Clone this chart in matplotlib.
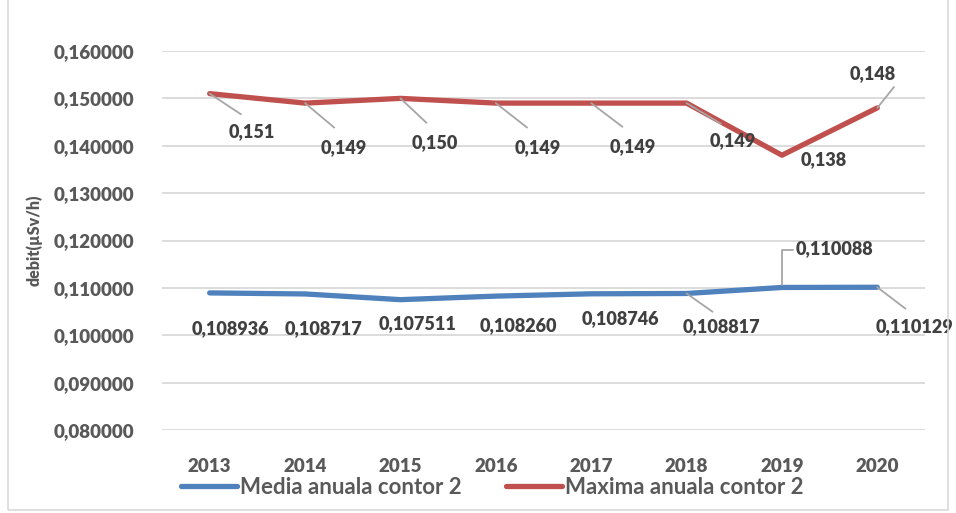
import matplotlib.pyplot as plt
import numpy as np

years = ["2013", "2014", "2015", "2016", "2017", "2018", "2019", "2020"]
media = [0.108936, 0.108717, 0.107511, 0.108260, 0.108746, 0.108817, 0.110088, 0.110129]
maxima = [0.151, 0.149, 0.150, 0.149, 0.149, 0.149, 0.138, 0.148]
media_labels = ["0,108936", "0,108717", "0,107511", "0,108260", "0,108746", "0,108817", "0,110088", "0,110129"]
maxima_labels = ["0,151", "0,149", "0,150", "0,149", "0,149", "0,149", "0,138", "0,148"]

# label offsets in points (dx, dy) and whether a leader line is drawn
max_offsets = [(30, -27), (28, -32), (25, -32), (30, -32), (30, -31), (33, -27), (30, -3), (-3, 25)]
max_leader = [True, True, True, True, True, True, False, True]
med_offsets = [(15, -26), (13, -25), (12, -17), (16, -21), (21, -18), (25, -24), (38, 28), (27, -28)]
med_leader = [False, False, False, False, False, True, True, True]

plt.rcParams["font.family"] = ["Lato", "DejaVu Sans"]
fig = plt.figure(figsize=(9.56, 5.13), dpi=100)
ax = fig.add_axes([162 / 956, 1 - 430 / 513, (925 - 162) / 956, (430 - 51) / 513])

x = np.arange(len(years))
blue = "#4f81bd"
red = "#c0504d"
ax.plot(x, media, color=blue, lw=3.8, solid_capstyle="round", label="Media anuala contor 2", zorder=3)
ax.plot(x, maxima, color=red, lw=3.8, solid_capstyle="round", label="Maxima anuala contor 2", zorder=3)

ax.set_xlim(-0.5, len(years) - 0.5)
ax.set_ylim(0.08, 0.16)
ax.set_yticks(np.arange(0.08, 0.1601, 0.01))
ax.set_yticklabels([f"{v:.6f}".replace(".", ",") for v in np.arange(0.08, 0.1601, 0.01)])
ax.set_xticks(x)
ax.set_xticklabels(years)
ax.tick_params(length=0, labelsize=13.5, labelcolor="#595959", pad=20)
ax.tick_params(axis="y", pad=20)
for lab in ax.get_xticklabels() + ax.get_yticklabels():
    lab.set_fontweight("heavy")
ax.grid(axis="y", color="#d9d9d9", lw=1.3)
ax.set_axisbelow(True)
for s in ax.spines.values():
    s.set_visible(False)

ax.set_ylabel("debit(µSv/h)", fontsize=11.5, fontweight="heavy", color="#595959", labelpad=8)

def annotate(vals, labels, offsets, leaders):
    for i, (v, lab) in enumerate(zip(vals, labels)):
        dx, dy = offsets[i]
        ax.annotate(lab, (i, v), xytext=(dx, dy), textcoords="offset points",
                    ha="center", va="center", fontsize=13, fontweight="heavy", color="#404040")
        if leaders[i]:
            if i == 6 and labels is media_labels:
                ax.annotate("", (i, v), xytext=(10, 27), textcoords="offset points",
                            arrowprops=dict(arrowstyle="-", color="#a6a6a6", lw=1.3,
                                            connectionstyle="angle,angleA=0,angleB=90,rad=0"))
            else:
                ex = dx * 0.75 if dx > 0 else dx + 15
                ey = dy * 0.55 if dy < 0 else dy * 0.6
                ax.annotate("", (i, v), xytext=(ex, ey), textcoords="offset points",
                            arrowprops=dict(arrowstyle="-", color="#a6a6a6", lw=1.3,
                                            shrinkA=0, shrinkB=0))

annotate(maxima, maxima_labels, max_offsets, max_leader)
annotate(media, media_labels, med_offsets, med_leader)

leg = fig.legend(loc="center", bbox_to_anchor=(0.515, 1 - 487 / 513), ncol=2, frameon=False,
                 prop={"size": 16, "weight": "bold"}, handlelength=2.5, handletextpad=0.15,
                 columnspacing=2.0)
for t in leg.get_texts():
    t.set_color("#595959")

# chart border
fig.patches.append(plt.Rectangle((8 / 956, 3 / 513), 940 / 956, 520 / 513, transform=fig.transFigure,
                                 fill=False, edgecolor="#d9d9d9", lw=1.2))

fig.savefig("out.png", dpi=100)
